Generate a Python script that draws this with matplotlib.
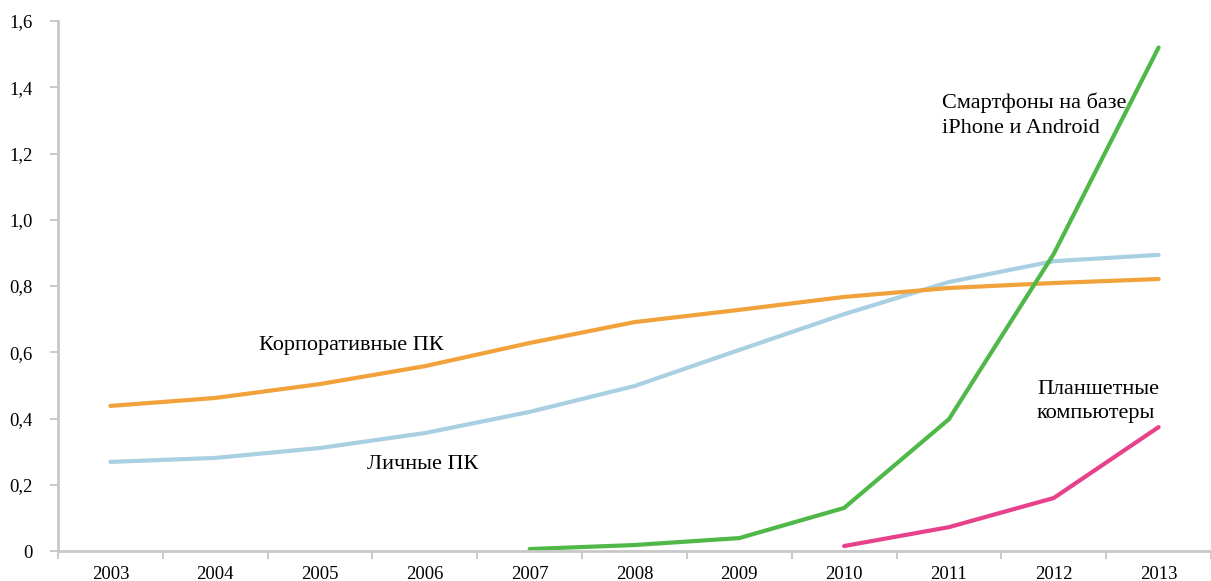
import matplotlib

matplotlib.use("Agg")

import matplotlib.pyplot as plt

years = ["2003", "2004", "2005", "2006", "2007", "2008",
         "2009", "2010", "2011", "2012", "2013"]

corp_pc = [0.438, 0.462, 0.504, 0.558, 0.628, 0.691, 0.728, 0.767, 0.794, 0.809, 0.821]
home_pc = [0.269, 0.281, 0.311, 0.356, 0.420, 0.498, 0.607, 0.715, 0.812, 0.875, 0.894]
smart_years = ["2007", "2008", "2009", "2010", "2011", "2012", "2013"]
smartphones = [0.006, 0.018, 0.039, 0.130, 0.398, 0.897, 1.52]
tablet_years = ["2010", "2011", "2012", "2013"]
tablets = [0.015, 0.072, 0.160, 0.374]

yticks = [0, 0.2, 0.4, 0.6, 0.8, 1.0, 1.2, 1.4, 1.6]
ytick_labels = ["0", "0,2", "0,4", "0,6", "0,8", "1,0", "1,2", "1,4", "1,6"]

plt.rcParams["font.family"] = ["Liberation Serif", "DejaVu Serif"]

fig = plt.figure(figsize=(12.11, 5.81), dpi=100)
ax = fig.add_axes([58 / 1211, 30 / 581, 1153 / 1211, 530 / 581])

idx = {y: i for i, y in enumerate(years)}
x_all = list(range(len(years)))

ax.plot(x_all, home_pc, color="#a9cfe2", lw=3, solid_capstyle="round")
ax.plot(x_all, corp_pc, color="#f2a23a", lw=3, solid_capstyle="round")
ax.plot([idx[y] for y in smart_years], smartphones, color="#4fb848", lw=3,
        solid_capstyle="round")
ax.plot([idx[y] for y in tablet_years], tablets, color="#e6418a", lw=3,
        solid_capstyle="round")

ax.text(2.3, 0.62, "Корпоративные ПК", fontsize=16, ha="center", va="center")
ax.text(2.98, 0.262, "Личные ПК", fontsize=16, ha="center", va="center")
ax.text(7.93, 1.316, "Смартфоны на базе\niPhone и Android", fontsize=16,
        ha="left", va="center", linespacing=1.4)
ax.text(8.84, 0.45, "Планшетные\nкомпьютеры", fontsize=16,
        ha="left", va="center", linespacing=1.35)

ax.set_xlim(-0.5, 10.45)
ax.set_ylim(0, 1.6)
ax.set_yticks(yticks)
ax.set_yticklabels(ytick_labels)
ax.set_xticks(x_all)
ax.set_xticklabels(years)
ax.set_xticks([i - 0.5 for i in range(len(years) + 1)], minor=True)
ax.tick_params(axis="x", which="major", length=0, pad=11, labelsize=13.5)
ax.tick_params(axis="x", which="minor", length=6, color="#c0c0c0", width=1.2)
ax.tick_params(axis="y", length=6, color="#c0c0c0", width=1.2, pad=12,
               labelsize=13.5)

for side in ("top", "right"):
    ax.spines[side].set_visible(False)
for side in ("left", "bottom"):
    ax.spines[side].set_color("#c8c8c8")
    ax.spines[side].set_linewidth(2)

fig.savefig("out.png", dpi=100)
